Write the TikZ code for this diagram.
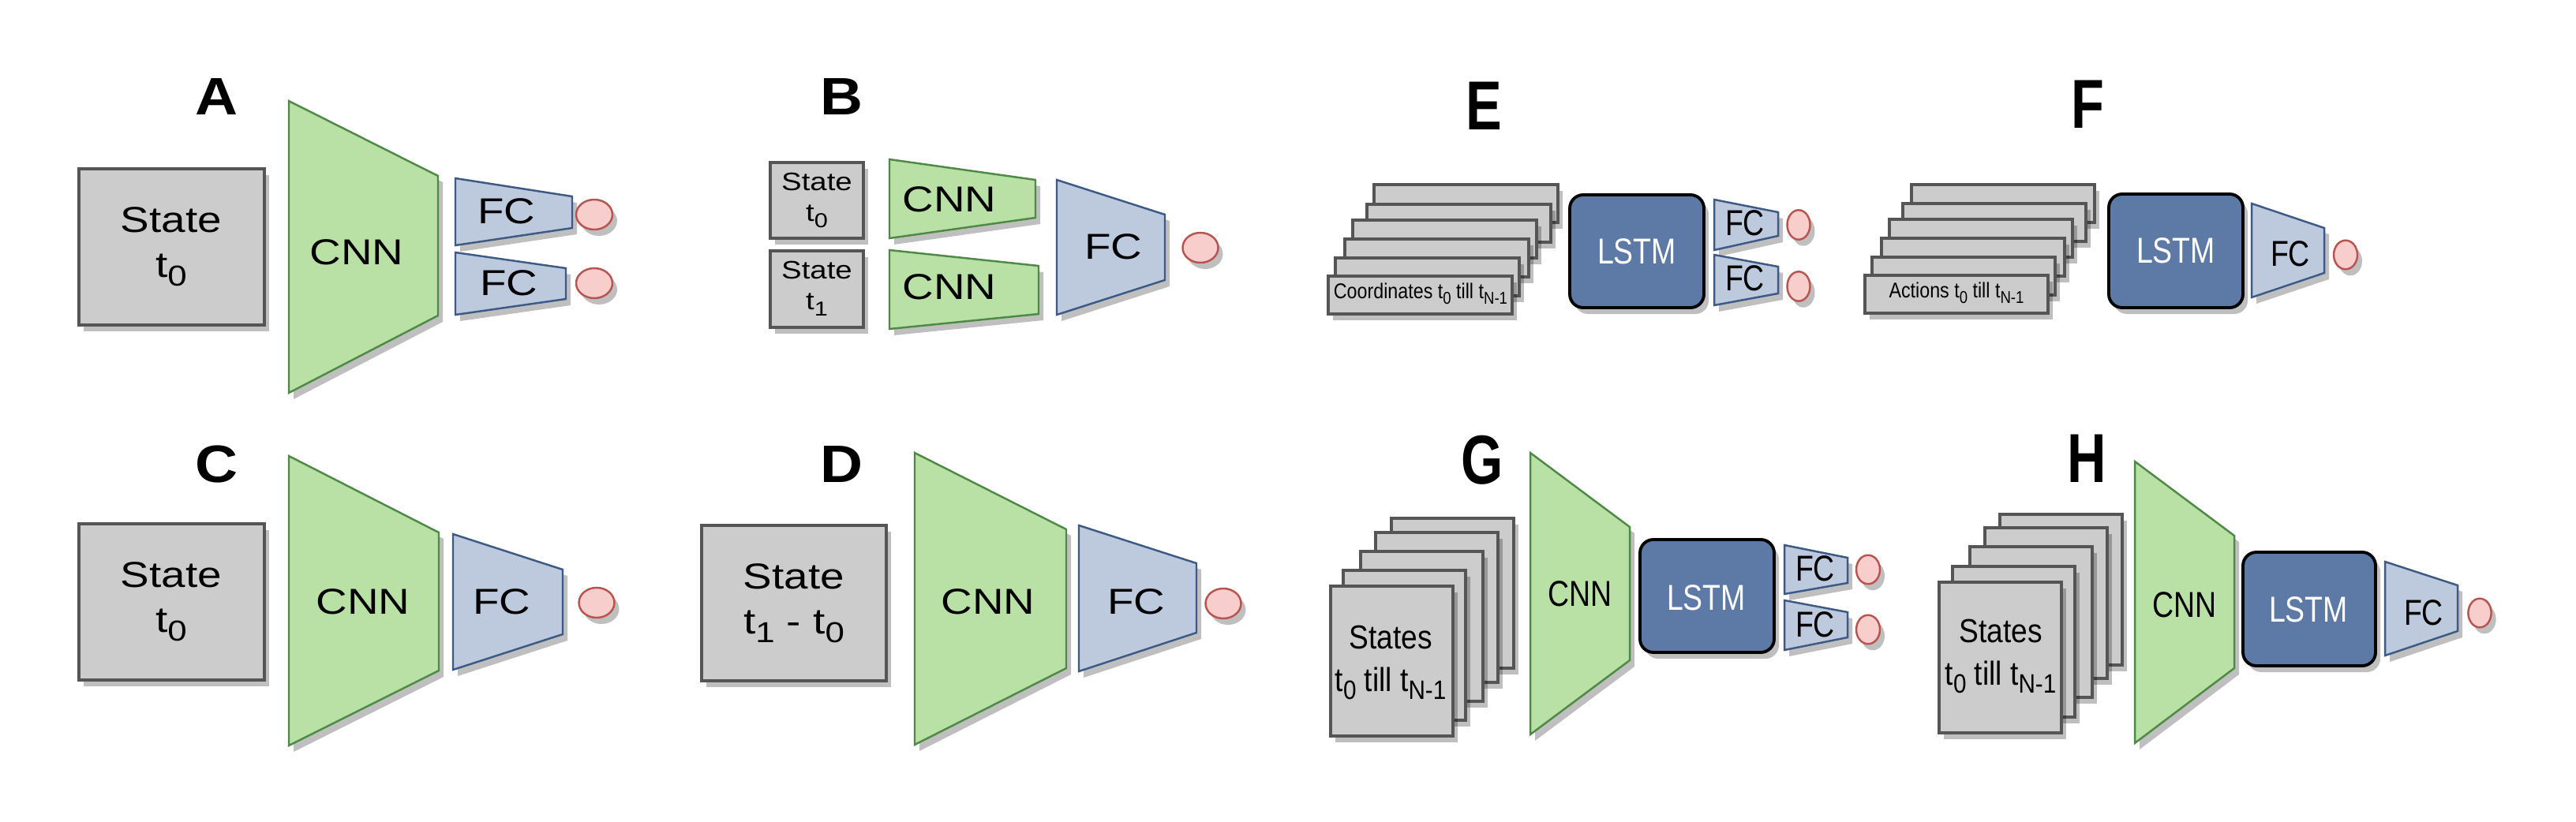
\documentclass[tikz,border=0pt]{standalone}
\usepackage{graphicx}
\usepackage{fontspec}
\setmainfont{Liberation Sans}
\usetikzlibrary{shadows}

\definecolor{statefill}{HTML}{CCCCCC}
\definecolor{stateline}{HTML}{555555}
\definecolor{cnnfill}{HTML}{B9E0A5}
\definecolor{cnnline}{HTML}{4E8A45}
\definecolor{fcfill}{HTML}{BDC9DD}
\definecolor{fcline}{HTML}{3C5A85}
\definecolor{lstmfill}{HTML}{5D79A6}
\definecolor{outfill}{HTML}{F8CECC}
\definecolor{outdraw}{HTML}{B85450}

% large, low subscripts as in the drawing
\newcommand{\tsub}[1]{\raisebox{-0.25em}{\scalebox{0.8}{#1}}}

\tikzset{
  castshadow/.style={drop shadow={shadow xshift=0.6mm, shadow yshift=-0.8mm, fill=black, opacity=0.25}},
  statebox/.style={fill=statefill, draw=stateline, line width=0.9pt, castshadow},
  cnn/.style={fill=cnnfill, draw=cnnline, line width=0.7pt, castshadow},
  fc/.style={fill=fcfill, draw=fcline, line width=0.7pt, castshadow},
  lstm/.style={fill=lstmfill, draw=black, line width=1.1pt, rounded corners=1.7mm, castshadow},
  outp/.style={fill=outfill, draw=outdraw, line width=0.7pt, castshadow},
  txt/.style={font=\fontsize{13}{16}\selectfont, align=center, inner sep=0pt},
  wide/.style={xscale=1.2, transform shape},
  slim/.style={xscale=0.82, transform shape},
  lbl/.style={font=\fontsize{19}{19}\selectfont\bfseries, inner sep=0pt, xscale=1.12, transform shape},
  biglbl/.style={font=\fontsize{25}{25}\selectfont\bfseries, inner sep=0pt, xscale=0.78, transform shape},
}

\begin{document}
\begin{tikzpicture}[x=1cm,y=-1cm]
\useasboundingbox (0,0) rectangle (32.64,10.42);

% A
\node[lbl] (labA) at (2.75,1.23) {A};
\draw[statebox] (1.00,2.14) rectangle (3.35,4.12);
\node[txt,wide] (stateA) at (2.17,3.13) {State\\t\tsub{0}};
\draw[cnn] (3.66,1.28) -- (5.55,2.23) -- (5.55,4.00) -- (3.66,4.98) -- cycle;
\node[txt,wide] (cnnA) at (4.52,3.20) {CNN};
\draw[fc] (5.77,2.26) -- (7.25,2.49) -- (7.25,2.89) -- (5.77,3.11) -- cycle;
\node[txt,wide] (fcA1) at (6.42,2.68) {FC};
\draw[fc] (5.77,3.20) -- (7.17,3.40) -- (7.17,3.79) -- (5.77,3.99) -- cycle;
\node[txt,wide] (fcA2) at (6.45,3.59) {FC};
\draw[outp] (7.53,2.72) ellipse (0.23 and 0.19);
\draw[outp] (7.53,3.59) ellipse (0.23 and 0.19);

% B
\node[lbl] (labB) at (10.66,1.23) {B};
\draw[statebox] (9.76,2.06) rectangle (10.94,3.02);
\draw[statebox] (9.76,3.18) rectangle (10.94,4.15);
\node[txt,font=\fontsize{9.1}{11.1}\selectfont,wide] (stateB0) at (10.35,2.54) {State\\t\tsub{0}};
\node[txt,font=\fontsize{9.1}{11.1}\selectfont,wide] (stateB1) at (10.35,3.66) {State\\t\tsub{1}};
\draw[cnn] (11.27,2.02) -- (13.12,2.28) -- (13.12,2.76) -- (11.27,3.02) -- cycle;
\node[txt,wide] (cnnB0) at (12.03,2.53) {CNN};
\draw[cnn] (11.27,3.17) -- (13.16,3.37) -- (13.16,3.98) -- (11.27,4.17) -- cycle;
\node[txt,wide] (cnnB1) at (12.03,3.64) {CNN};
\draw[fc] (13.39,2.28) -- (14.76,2.72) -- (14.76,3.55) -- (13.39,3.99) -- cycle;
\node[txt,wide] (fcB) at (14.11,3.13) {FC};
\draw[outp] (15.21,3.14) ellipse (0.225 and 0.19);

% C
\node[lbl] (labC) at (2.75,5.89) {C};
\draw[statebox] (1.00,6.64) rectangle (3.35,8.62);
\node[txt,wide] (stateC) at (2.17,7.63) {State\\t\tsub{0}};
\draw[cnn] (3.66,5.78) -- (5.56,6.75) -- (5.56,8.50) -- (3.66,9.45) -- cycle;
\node[txt,wide] (cnnC) at (4.60,7.63) {CNN};
\draw[fc] (5.74,6.77) -- (7.13,7.22) -- (7.13,8.04) -- (5.74,8.49) -- cycle;
\node[txt,wide] (fcC) at (6.36,7.63) {FC};
\draw[outp] (7.56,7.64) ellipse (0.225 and 0.19);

% D
\node[lbl] (labD) at (10.66,5.89) {D};
\draw[statebox] (8.89,6.66) rectangle (11.23,8.63);
\node[txt,wide] (stateD) at (10.06,7.65) {State\\t\tsub{1} - t\tsub{0}};
\draw[cnn] (11.59,5.74) -- (13.51,6.71) -- (13.51,8.47) -- (11.59,9.44) -- cycle;
\node[txt,wide] (cnnD) at (12.52,7.63) {CNN};
\draw[fc] (13.67,6.66) -- (15.16,7.14) -- (15.16,8.02) -- (13.67,8.51) -- cycle;
\node[txt,wide] (fcD) at (14.40,7.63) {FC};
\draw[outp] (15.50,7.65) ellipse (0.225 and 0.19);

% E
\node[biglbl] (labE) at (18.80,1.34) {E};
\foreach \x/\y in {17.41/2.34, 17.32/2.59, 17.14/2.79, 17.04/3.03, 16.92/3.27, 16.83/3.50}
  \draw[statebox] (\x,\y) rectangle ++(2.33,0.48);
\node[txt,font=\fontsize{7.7}{7.7}\selectfont,xscale=0.86,transform shape] (coordE) at (18.00,3.72) {Coordinates t\tsub{0} till t\tsub{N-1}};
\draw[lstm] (19.89,2.47) rectangle (21.59,3.90);
\node[txt,slim,text=white] (lstmE) at (20.74,3.19) {LSTM};
\draw[fc] (21.72,2.53) -- (22.53,2.69) -- (22.53,2.99) -- (21.72,3.17) -- cycle;
\node[txt,slim] (fcE1) at (22.11,2.83) {FC};
\draw[fc] (21.72,3.23) -- (22.53,3.38) -- (22.53,3.72) -- (21.72,3.87) -- cycle;
\node[txt,slim] (fcE2) at (22.11,3.53) {FC};
\draw[outp] (22.79,2.85) ellipse (0.145 and 0.187);
\draw[outp] (22.79,3.63) ellipse (0.145 and 0.187);

% F
\node[biglbl] (labF) at (26.45,1.32) {F};
\foreach \x/\y in {24.22/2.34, 24.11/2.58, 23.94/2.78, 23.84/3.02, 23.72/3.26, 23.63/3.49}
  \draw[statebox] (\x,\y) rectangle ++(2.32,0.48);
\node[txt,font=\fontsize{7.7}{7.7}\selectfont,xscale=0.86,transform shape] (actF) at (24.79,3.71) {Actions t\tsub{0} till t\tsub{N-1}};
\draw[lstm] (26.72,2.46) rectangle (28.42,3.90);
\node[txt,slim,text=white] (lstmF) at (27.57,3.18) {LSTM};
\draw[fc] (28.53,2.58) -- (29.45,2.89) -- (29.45,3.46) -- (28.53,3.77) -- cycle;
\node[txt,slim] (fcF) at (29.02,3.22) {FC};
\draw[outp] (29.72,3.23) ellipse (0.15 and 0.183);

% G
\node[biglbl] (labG) at (18.78,5.83) {G};
\foreach \x/\y in {17.63/6.57, 17.43/6.75, 17.24/6.99, 17.02/7.23, 16.86/7.43}
  \draw[statebox] (\x,\y) rectangle ++(1.55,1.90);
\node[txt,font=\fontsize{12}{15.3}\selectfont,xscale=0.88,transform shape] (statesG) at (17.62,8.40) {States\\t\tsub{0} till t\tsub{N-1}};
\draw[cnn] (19.39,5.74) -- (20.65,6.68) -- (20.65,8.37) -- (19.39,9.31) -- cycle;
\node[txt,slim] (cnnG) at (20.02,7.53) {CNN};
\draw[lstm] (20.78,6.84) rectangle (22.48,8.27);
\node[txt,slim,text=white] (lstmG) at (21.62,7.58) {LSTM};
\draw[fc] (22.61,6.91) -- (23.41,7.07) -- (23.41,7.39) -- (22.61,7.53) -- cycle;
\node[txt,slim] (fcG1) at (23.00,7.21) {FC};
\draw[fc] (22.61,7.61) -- (23.41,7.76) -- (23.41,8.08) -- (22.61,8.24) -- cycle;
\node[txt,slim] (fcG2) at (23.00,7.92) {FC};
\draw[outp] (23.67,7.22) ellipse (0.15 and 0.183);
\draw[outp] (23.67,7.98) ellipse (0.15 and 0.183);

% H
\node[biglbl] (labH) at (26.44,5.81) {H};
\foreach \x/\y in {25.34/6.52, 25.15/6.69, 24.96/6.93, 24.74/7.18, 24.57/7.38}
  \draw[statebox] (\x,\y) rectangle ++(1.55,1.91);
\node[txt,font=\fontsize{12}{15.3}\selectfont,xscale=0.88,transform shape] (statesH) at (25.35,8.32) {States\\t\tsub{0} till t\tsub{N-1}};
\draw[cnn] (27.05,5.85) -- (28.31,6.79) -- (28.31,8.47) -- (27.05,9.42) -- cycle;
\node[txt,slim] (cnnH) at (27.68,7.67) {CNN};
\draw[lstm] (28.42,7.00) rectangle (30.10,8.44);
\node[txt,slim,text=white] (lstmH) at (29.25,7.73) {LSTM};
\draw[fc] (30.22,7.12) -- (31.14,7.42) -- (31.14,8.00) -- (30.22,8.31) -- cycle;
\node[txt,slim] (fcH) at (30.71,7.77) {FC};
\draw[outp] (31.42,7.77) ellipse (0.146 and 0.183);
\end{tikzpicture}
\end{document}
